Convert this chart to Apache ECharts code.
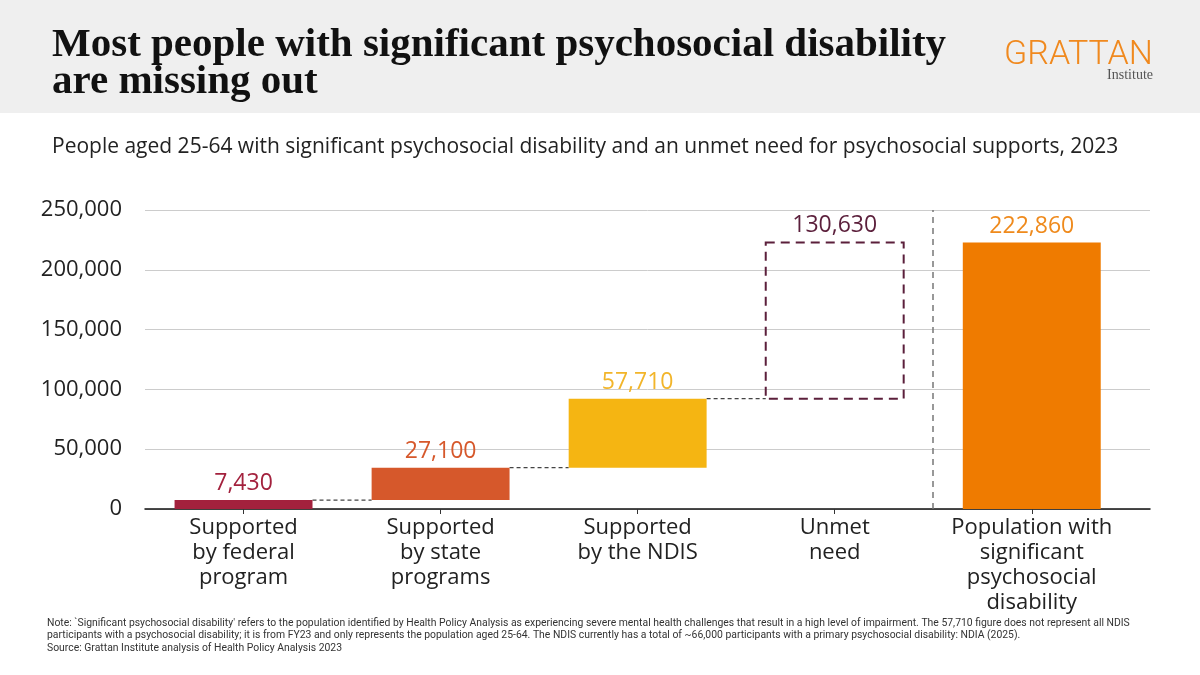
<!DOCTYPE html>
<html>
<head>
<meta charset="utf-8">
<script src="https://cdn.jsdelivr.net/npm/echarts@6/dist/echarts.min.js"></script>
<style>
  html, body { margin: 0; padding: 0; background: #fff; }
  #chart { width: 1200px; height: 675px; }
</style>
</head>
<body>
<div id="chart"></div>
<script>
// data
var categories = ['Supported\nby federal\nprogram', 'Supported\nby state\nprograms', 'Supported\nby the NDIS', 'Unmet\nneed', 'Population with\nsignificant\npsychosocial\ndisability'];
var values = [7430, 27100, 57710, 130630, 222860];
var isTotal = [false, false, false, false, true];
var yTicks = [0, 50000, 100000, 150000, 200000, 250000];

var barColors = ['#a3213d', '#d6582b', '#f5b512', 'none', '#ef7b00'];
var labelColors = ['#a3213d', '#d6582b', '#f2b52a', '#5b1f3b', '#ef8a1c'];

// waterfall: running base for each step
var steps = [];
var running = 0;
values.forEach(function (v, i) {
    if (isTotal[i]) {
        steps.push([i, 0, v]);
    } else {
        steps.push([i, running, running + v]);
        running += v;
    }
});
// connectors between first four steps
var connectors = [];
for (var i = 0; i < 3; i++) {
    connectors.push([i, steps[i][2]]);
}

var HALF = 0.35;
var fontSans = '"Open Sans", "Noto Sans", sans-serif';

function fmt(v) {
    return v.toLocaleString('en-US');
}

var myChart = echarts.init(document.getElementById('chart'));
myChart.setOption({
    backgroundColor: '#ffffff',
    animation: false,
    title: [
        {
            text: 'Most people with significant psychosocial disability\nare missing out',
            left: 47,
            top: 22,
            textStyle: {
                fontFamily: '"Liberation Serif", "DejaVu Serif", serif',
                fontWeight: 'bold',
                fontSize: 41,
                lineHeight: 37,
                color: '#111'
            }
        },
        {
            text: 'People aged 25-64 with significant psychosocial disability and an unmet need for psychosocial supports, 2023',
            left: 47,
            top: 132,
            textStyle: {
                fontFamily: fontSans,
                fontWeight: 'normal',
                fontSize: 21,
                color: '#222'
            }
        }
    ],
    graphic: [
        {
            type: 'rect', z: -10, silent: true,
            shape: {x: 0, y: 0, width: 1200, height: 113},
            style: {fill: '#efefef'}
        },
        {
            type: 'text', right: 47, top: 38,
            style: {
                text: 'GRATTAN',
                font: '300 34px Roboto, "Open Sans", sans-serif',
                fill: '#f0891e'
            }
        },
        {
            type: 'text', right: 47, top: 68,
            style: {
                text: 'Institute',
                font: '14px "Liberation Serif", serif',
                fill: '#555'
            }
        },
        {
            type: 'text', left: 47, top: 617,
            style: {
                text: 'Note: `Significant psychosocial disability\' refers to the population identified by Health Policy Analysis as experiencing severe mental health challenges that result in a high level of impairment. The 57,710 figure does not represent all NDIS\nparticipants with a psychosocial disability; it is from FY23 and only represents the population aged 25-64. The NDIS currently has a total of ~66,000 participants with a primary psychosocial disability: NDIA (2025).',
                font: '10.4px "Liberation Sans Narrow", Roboto, sans-serif',
                lineHeight: 12,
                fill: '#333'
            }
        },
        {
            type: 'text', left: 47, top: 643,
            style: {
                text: 'Source: Grattan Institute analysis of Health Policy Analysis 2023',
                font: '10.4px "Liberation Sans Narrow", Roboto, sans-serif',
                fill: '#333'
            }
        }
    ],
    grid: {
        left: 145,
        right: 50,
        top: 210,
        bottom: 166
    },
    xAxis: {
        type: 'value',
        min: -0.5,
        max: 4.6,
        splitLine: {show: false},
        axisLine: {lineStyle: {color: '#111', width: 1.5}},
        axisTick: {
            show: true,
            customValues: [0, 1, 2, 3, 4],
            length: 5,
            lineStyle: {color: '#333'}
        },
        axisLabel: {
            customValues: [0, 1, 2, 3, 4],
            formatter: function (v) { return categories[Math.round(v)]; },
            fontFamily: fontSans,
            fontSize: 22,
            lineHeight: 25,
            color: '#222',
            margin: 6,
            verticalAlign: 'top'
        }
    },
    yAxis: {
        type: 'value',
        min: 0,
        max: 250000,
        interval: 50000,
        axisLine: {show: false},
        axisTick: {show: false},
        splitLine: {lineStyle: {color: '#cccccc', width: 1}},
        axisLabel: {
            customValues: yTicks,
            formatter: function (v) { return fmt(v); },
            fontFamily: fontSans,
            fontSize: 22,
            color: '#222',
            margin: 23
        }
    },
    series: [
        {
            type: 'custom',
            data: steps,
            encode: {x: 0, y: [1, 2]},
            renderItem: function (params, api) {
                var i = params.dataIndex;
                var x = api.value(0);
                var p0 = api.coord([x - HALF, api.value(1)]);
                var p1 = api.coord([x + HALF, api.value(2)]);
                var dashed = barColors[i] === 'none';
                var rect = {
                    type: 'rect',
                    shape: {x: p0[0], y: p1[1], width: p1[0] - p0[0], height: p0[1] - p1[1]},
                    style: dashed
                        ? {fill: 'none', stroke: '#5b1f3b', lineWidth: 2, lineDash: [9, 6]}
                        : {fill: barColors[i]}
                };
                var label = {
                    type: 'text',
                    style: {
                        text: fmt(values[i]),
                        x: (p0[0] + p1[0]) / 2,
                        y: p1[1] - 5,
                        align: 'center',
                        verticalAlign: 'bottom',
                        font: '23px ' + fontSans,
                        fill: labelColors[i]
                    }
                };
                return {type: 'group', children: [rect, label]};
            },
            markLine: {
                silent: true,
                symbol: 'none',
                label: {show: false},
                lineStyle: {color: '#777', type: [6, 5], width: 1.5},
                data: [
                    [{coord: [3.5, 0]}, {coord: [3.5, 250000]}]
                ]
            },
            z: 3
        },
        {
            type: 'custom',
            data: connectors,
            renderItem: function (params, api) {
                var x = api.value(0);
                var a = api.coord([x + HALF, api.value(1)]);
                var b = api.coord([x + 1 - HALF, api.value(1)]);
                return {
                    type: 'line',
                    shape: {x1: a[0], y1: a[1], x2: b[0], y2: b[1]},
                    style: {stroke: '#444', lineWidth: 1.2, lineDash: [4, 3]}
                };
            },
            z: 2
        }
    ]
});
</script>
</body>
</html>
